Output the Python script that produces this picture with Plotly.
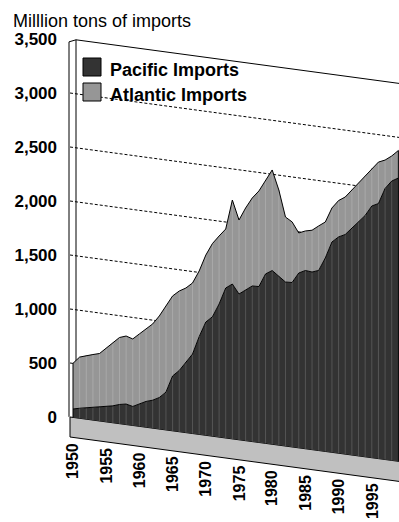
import plotly.graph_objects as go

# ---- data -------------------------------------------------------------
years = list(range(1950, 2000))
pacific = [78, 93, 106, 119, 131, 145, 157, 178, 190, 176,
           207, 239, 259, 292, 350, 508, 567, 654, 736, 905,
           1049, 1106, 1232, 1389, 1434, 1350, 1395, 1441, 1444, 1569,
           1609, 1567, 1519, 1523, 1619, 1651, 1645, 1668, 1792, 1948,
           2003, 2034, 2098, 2167, 2235, 2331, 2362, 2510, 2587, 2623]
atlantic = [423, 474, 484, 488, 494, 539, 582, 620, 630, 625,
            649, 671, 706, 755, 798, 741, 736, 685, 658, 608,
            620, 678, 630, 546, 778, 685, 760, 815, 885, 870,
            931, 796, 602, 561, 371, 366, 387, 412, 333, 315,
            337, 347, 357, 361, 366, 351, 384, 263, 232, 255]
y_ticks = [0, 500, 1000, 1500, 2000, 2500, 3000, 3500]
y_tick_labels = ["0", "500", "1,000", "1,500", "2,000", "2,500", "3,000", "3,500"]
label_years = [1950, 1955, 1960, 1965, 1970, 1975, 1980, 1985, 1990, 1995]
series_names = ["Pacific Imports", "Atlantic Imports"]
title_text = "Milllion tons of imports"

# ---- geometry of the tilted (pseudo 3-D) frame ---------------------------
W, H = 399, 522
PLOT_L = 62             # left edge of the plotting area, px
X0_YEAR, X0_PX = 1950, 73
PX_PER_YEAR = 6.64
PX_PER_UNIT = 0.108     # px per million tons
ZERO_PX = 417           # row of the 0 line at the wall
WALL_PX = 70
SLOPE = 0.135           # downward slope of the floor, px per px
FLOOR_DEPTH = 20        # thickness of the floor slab, px


def px_year(px):
    return X0_YEAR + (px - X0_PX) / PX_PER_YEAR


YEAR_REF = px_year(WALL_PX)
TILT = SLOPE * PX_PER_YEAR / PX_PER_UNIT
X_END = px_year(W + 2)


def sheared(year, v):
    """Value v at a given year, expressed on the tilted plotting scale."""
    return v - TILT * (year - YEAR_REF)


def px_units(px):
    return px / PX_PER_UNIT


def paper_x(px):
    return (px - PLOT_L) / (W - PLOT_L)


def paper_y(py):
    return 1 - py / H


FONT = "Liberation Sans, Arial, Helvetica, sans-serif"
DARK = "#333333"
LIGHT = "#969696"
FLOOR = "#c0c0c0"

pac_top = [p for p in pacific]
tot_top = [p + a for p, a in zip(pacific, atlantic)]

fig = go.Figure()

# filled bands
bands = [
    ([0] * len(years), pac_top, DARK, "#555555"),
    (pac_top, tot_top, LIGHT, "#a9a9a9"),
]
for lo, hi, fill, rib in bands:
    xs = years + years[::-1]
    ys = [sheared(y, v) for y, v in zip(years, hi)] + \
         [sheared(y, v) for y, v in zip(years[::-1], lo[::-1])]
    fig.add_trace(go.Scatter(x=xs, y=ys, fill="toself", fillcolor=fill,
                             mode="lines", line=dict(width=0),
                             hoverinfo="skip", showlegend=False))
    # faint ribs at each year segment
    rx, ry = [], []
    for y, a, b in zip(years[1:], lo[1:], hi[1:]):
        rx += [y, y, None]
        ry += [sheared(y, a), sheared(y, b), None]
    fig.add_trace(go.Scatter(x=rx, y=ry, mode="lines",
                             line=dict(color=rib, width=1),
                             hoverinfo="skip", showlegend=False))

# outlines of the bands
for lo, hi in [([0] * len(years), pac_top), (pac_top, tot_top)]:
    xs = [years[0]] + years + [years[-1]]
    ys = ([sheared(years[0], lo[0])] +
          [sheared(y, v) for y, v in zip(years, hi)] +
          [sheared(years[-1], lo[-1])])
    fig.add_trace(go.Scatter(x=xs, y=ys, mode="lines",
                             line=dict(color="black", width=1),
                             hoverinfo="skip", showlegend=False))

shapes = []
# floor slab
fd = px_units(FLOOR_DEPTH)
shapes.append(dict(
    type="path", xref="x", yref="y", layer="below",
    path=(f"M{YEAR_REF},{sheared(YEAR_REF, 0)} L{X_END},{sheared(X_END, 0)} "
          f"L{X_END},{sheared(X_END, 0) - fd} L{YEAR_REF},{sheared(YEAR_REF, 0) - fd} Z"),
    fillcolor=FLOOR, line=dict(color="black", width=1)))

# dashed gridlines on the back wall
for v in y_ticks[1:-1]:
    shapes.append(dict(type="line", xref="x", yref="y", layer="below",
                       x0=YEAR_REF, y0=sheared(YEAR_REF, v),
                       x1=X_END, y1=sheared(X_END, v),
                       line=dict(color="black", width=1, dash="3px,2px")))

# wall edges
inner = px_year(76)
outer = px_year(69)
top_v = y_ticks[-1]
shapes += [
    dict(type="line", xref="x", yref="y", layer="below",
         x0=inner, y0=sheared(inner, top_v), x1=X_END, y1=sheared(X_END, top_v),
         line=dict(color="black", width=1)),
    dict(type="line", xref="x", yref="y", layer="below",
         x0=inner, y0=sheared(inner, top_v), x1=inner, y1=sheared(inner, 0),
         line=dict(color="black", width=1)),
    dict(type="line", xref="x", yref="y", layer="below",
         x0=outer, y0=sheared(outer, top_v) - px_units(3), x1=outer, y1=sheared(outer, 0),
         line=dict(color="black", width=1)),
    dict(type="line", xref="x", yref="y", layer="below",
         x0=outer, y0=sheared(outer, top_v) - px_units(3),
         x1=inner, y1=sheared(inner, top_v),
         line=dict(color="black", width=1)),
]

# legend keys
for i, col in enumerate([DARK, LIGHT]):
    top = 58 + 25 * i
    shapes.append(dict(type="rect", xref="paper", yref="paper",
                       x0=paper_x(83), x1=paper_x(101),
                       y0=paper_y(top), y1=paper_y(top + 18),
                       fillcolor=col, line=dict(color="black", width=1)))

annotations = []
for i, name in enumerate(series_names):
    annotations.append(dict(xref="paper", yref="paper",
                            x=paper_x(108), y=paper_y(70 + 25 * i),
                            xanchor="left", yanchor="middle", showarrow=False,
                            text=name,
                            font=dict(family=FONT, size=18, color="black",
                                      weight="bold")))

annotations.append(dict(xref="paper", yref="paper",
                        x=paper_x(11), y=paper_y(21),
                        xanchor="left", yanchor="middle", showarrow=False,
                        text=title_text,
                        font=dict(family=FONT, size=18, color="black")))

# year labels along the front edge of the floor
for yr in label_years:
    annotations.append(dict(xref="x", yref="y", x=yr,
                            y=sheared(yr, 0) - px_units(24.5),
                            xanchor="center", yanchor="top", showarrow=False,
                            textangle=-90, text=str(yr), borderpad=0,
                            font=dict(family=FONT, size=16, color="black",
                                      weight="bold")))

fig.update_layout(
    width=W, height=H,
    margin=dict(l=PLOT_L, r=0, t=0, b=0, pad=0),
    paper_bgcolor="white", plot_bgcolor="white",
    showlegend=False,
    shapes=shapes, annotations=annotations,
    xaxis=dict(range=[px_year(PLOT_L), px_year(W)], visible=False, fixedrange=True),
    yaxis=dict(range=[px_units(ZERO_PX - H), px_units(ZERO_PX)],
               tickvals=y_ticks, ticktext=y_tick_labels,
               showgrid=False, zeroline=False, showline=False, ticks="",
               ticklabelstandoff=4,
               tickfont=dict(family=FONT, size=17, color="black", weight="bold"),
               fixedrange=True),
)

fig.write_html("out.html")
